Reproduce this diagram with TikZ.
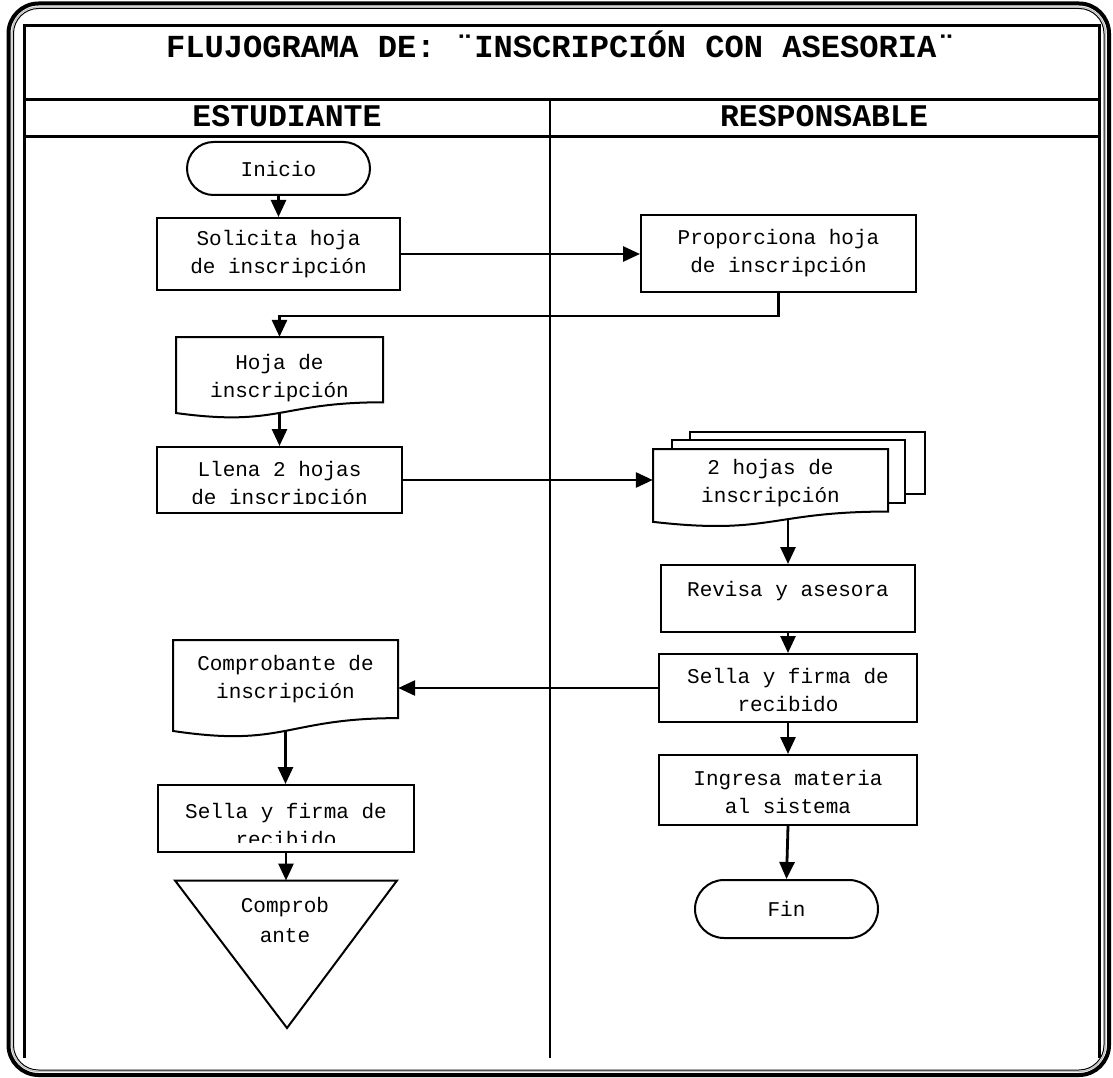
\documentclass[tikz,border=0pt]{standalone}
\usepackage{fontspec}
\setmainfont{Liberation Mono}
\usetikzlibrary{arrows.meta,shapes.misc,calc}

\newcommand\flowfont{\fontsize{21}{28}\selectfont}
\newcommand\headfont{\bfseries\fontsize{31.5}{36}\selectfont}
\newcommand\titlefont{\bfseries\fontsize{32.1}{36}\selectfont}

% document symbol with a wavy lower edge: x0, y0, width, height
\newcommand\docoutline[4]{%
  \draw[shp] (#1,#2) -- ({#1+#3},#2) -- ({#1+#3},{#2+0.802*#4})
    .. controls ({#1+0.5*#3},{#2+0.802*#4}) and ({#1+0.5*#3},{#2+1.107*#4})
    .. (#1,{#2+0.934*#4}) -- cycle;}

\begin{document}
\begin{tikzpicture}[x=1pt,y=-1pt,
  shp/.style={draw, line width=2pt, fill=white},
  proc/.style={shp, rectangle, inner sep=0pt},
  term/.style={shp, rounded rectangle, minimum width=183pt, inner sep=0pt, font=\flowfont},
  doctext/.style={inner sep=0pt, align=center, font=\flowfont},
  docarea/.style={inner sep=0pt, draw=none},
  % text inside a box, shifted by #2 and cut 10pt above the lower edge
  btext/.style n args={3}{path picture={
      \clip (path picture bounding box.north west) rectangle ([yshift=10pt]path picture bounding box.south east);
      \node[doctext] (#1) at ([yshift=#2]path picture bounding box.center) {#3};}},
  flow/.style={line width=2.8pt, -{Triangle[length=17pt,width=15pt]}},
  lane/.style={line width=2.5pt},
]
\useasboundingbox (0,0) rectangle (1113,1078);

% outer page border
\draw[line width=4pt, rounded corners=30pt] (8.5,3.5) rectangle (1109,1075);
\draw[line width=1.2pt, gray!50, rounded corners=26pt] (12,7) rectangle (1105.5,1071.5);
\draw[line width=1pt, rounded corners=25pt] (13.5,8.5) rectangle (1104,1070);

% swim-lane table
\draw[lane] (24.5,1058) -- (24.5,25.5) -- (1099.5,25.5) -- (1099.5,1058);
\draw[lane] (24.5,99.5) -- (1099.5,99.5);
\draw[lane] (24.5,136.5) -- (1099.5,136.5);
\draw[line width=2pt] (550,99.5) -- (550,1058);

\node[font=\titlefont, anchor=base] (title) at (561,58) {FLUJOGRAMA DE: ¨INSCRIPCIÓN CON ASESORIA¨};
\node[font=\headfont, anchor=base] (lane1) at (287,127) {ESTUDIANTE};
\node[font=\headfont, anchor=base] (lane2) at (824,127) {RESPONSABLE};

% student lane
\node[term, minimum height=53pt] (inicio) at (278.5,168.5) {Inicio};
\node[proc, minimum width=243pt, minimum height=72pt,
      btext={solic-t}{0pt}{Solicita hoja\\de inscripción}] (solic) at (278.5,254) {};

\docoutline{176}{337}{207}{81.4}
\node[docarea, minimum width=207pt, minimum height=75.9pt] (hoja) at (279.5,375) {};
\node[doctext] (hoja-t) at (279.5,378) {Hoja de\\inscripción};

\node[proc, minimum width=245pt, minimum height=66pt,
      btext={llena-t}{-5pt}{Llena 2 hojas\\de inscripción}] (llena) at (279.5,480) {};

\docoutline{173}{640}{225}{97.4}
\node[docarea, minimum width=225pt, minimum height=90.9pt] (comp) at (285.5,685.4) {};
\node[doctext] (comp-t) at (285.5,679) {Comprobante de\\inscripción};

\node[proc, minimum width=256pt, minimum height=67pt,
      btext={sellaL-t}{-7pt}{Sella y firma de\\recibido}] (sellaL) at (286,818.5) {};

\draw[shp] (175,880.5) -- (397,880.5) -- (287,1028) -- cycle;
\coordinate (archtop) at (286,880.5);
\node[doctext, font=\fontsize{21}{30}\selectfont] (arch) at (285,920) {Comprob\\ante};

% staff lane
\node[proc, minimum width=275pt, minimum height=77pt,
      btext={prop-t}{0pt}{Proporciona hoja\\de inscripción}] (prop) at (778.5,253.5) {};

\draw[shp] (690,432) rectangle (925,494);
\draw[shp] (672,440) rectangle (905,503);
\docoutline{653}{449}{235}{78}
\node[docarea, minimum width=235pt, minimum height=72.8pt] (hojas) at (770.5,485.4) {};
\node[doctext] (hojas-t) at (770.5,483.4) {2 hojas de\\inscripción};

\node[proc, minimum width=254pt, minimum height=67pt,
      btext={revisa-t}{7pt}{Revisa y asesora}] (revisa) at (788,598.5) {};
\node[proc, minimum width=258pt, minimum height=68pt,
      btext={sellaR-t}{-2.5pt}{Sella y firma de\\recibido}] (sellaR) at (788,688) {};
\node[proc, minimum width=258pt, minimum height=70pt,
      btext={ingresa-t}{-1.5pt}{Ingresa materia\\al sistema}] (ingresa) at (788,790) {};
\node[term, minimum height=58pt] (fin) at (786.5,909) {Fin};

% connectors
\draw[flow] (inicio.south) -- (solic.north);
\draw[flow] (solic.east) -- (solic.east -| prop.west);
\draw[flow] (prop.south) -- ++(0,23) -| (hoja.north);
\draw[flow] (hoja.south) -- (llena.north);
\draw[flow] (llena.east) -- (llena.east -| hojas.west);
\draw[flow] ($(revisa.north |- hojas.south)+(0,-3)$) -- (revisa.north);
\draw[flow] (revisa.south) -- (sellaR.north);
\draw[flow] (sellaR.west) -- (sellaR.west -| comp.east);
\draw[flow] (sellaR.south) -- (ingresa.north);
\draw[flow] (ingresa.south) -- (fin.north);
\draw[flow] (comp.south) -- (comp.south |- sellaL.north);
\draw[flow] (sellaL.south) -- (archtop);
\end{tikzpicture}
\end{document}
